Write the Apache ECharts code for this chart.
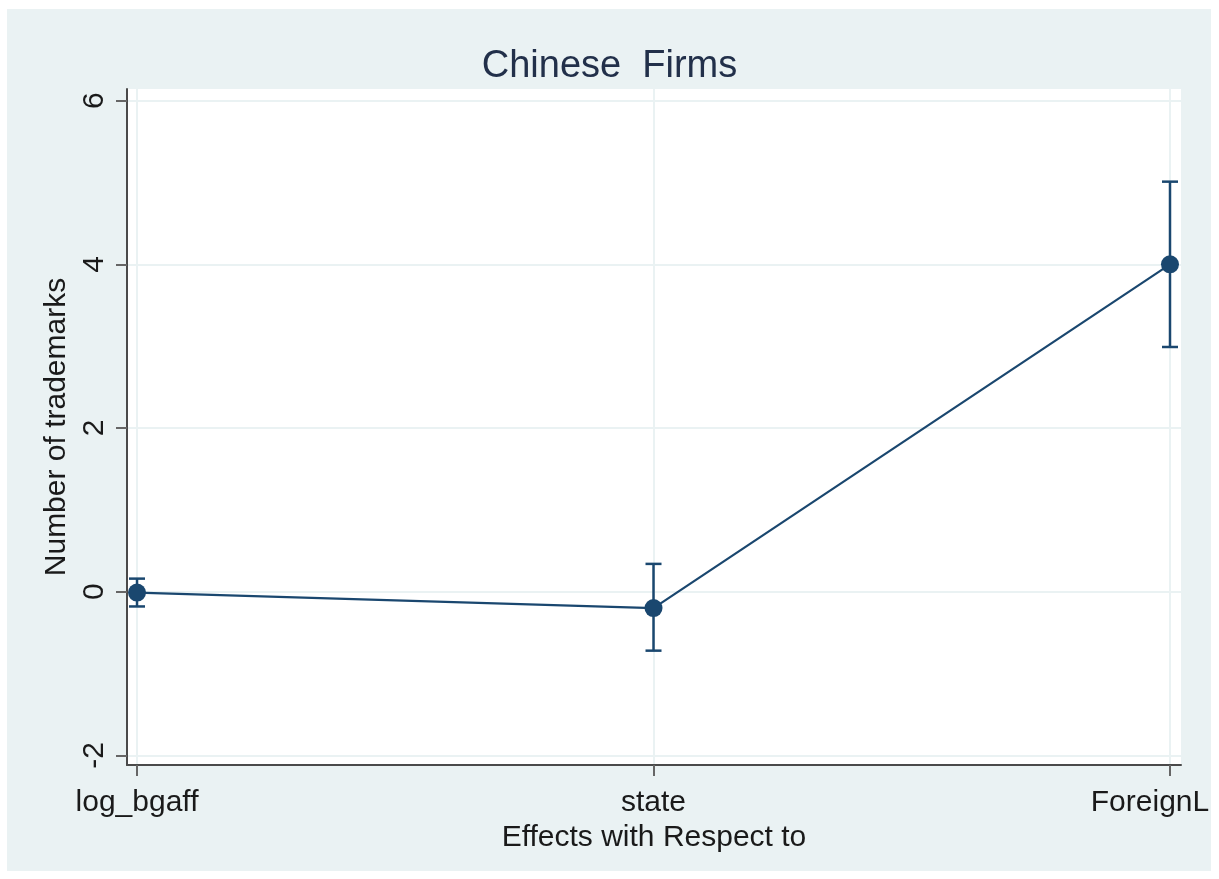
<!DOCTYPE html>
<html>
<head>
<meta charset="utf-8">
<script src="https://cdn.jsdelivr.net/npm/echarts@6/dist/echarts.min.js"></script>
<style>
html,body{margin:0;padding:0;background:#fff;}
#chart{width:1219px;height:879px;}
</style>
</head>
<body>
<div id="chart"></div>
<script>
// ---- data ----
var categories = ['log_bgaff', 'state', 'ForeignL'];
var estimates = [-0.01, -0.2, 4.0];
var ciLower = [-0.18, -0.72, 2.99];
var ciUpper = [0.16, 0.34, 5.01];
var yTicks = [-2, 0, 2, 4, 6];
var xTicks = [0, 1, 2];

var navy = '#1A476F';
var lineData = categories.map(function (c, i) { return [i, estimates[i]]; });
var errData = categories.map(function (c, i) { return [i, ciLower[i], ciUpper[i]]; });

var chart = echarts.init(document.getElementById('chart'));
chart.setOption({
  backgroundColor: '#ffffff',
  animation: false,
  graphic: [{
    type: 'rect', z: -10, silent: true,
    shape: { x: 7, y: 9, width: 1204, height: 862 },
    style: { fill: '#EAF2F3' }
  }],
  title: {
    text: 'Chinese  Firms',
    left: 'center', top: 43,
    textStyle: { fontFamily: 'Liberation Sans, Arial, sans-serif', fontSize: 38, fontWeight: 'normal', color: '#22304a' }
  },
  grid: {
    left: 127, right: 38, top: 89, bottom: 114,
    outerBoundsMode: 'none', containLabel: false,
    show: true, backgroundColor: '#ffffff', borderWidth: 0
  },
  xAxis: {
    type: 'value',
    min: -0.0194, max: 2.0213,
    name: 'Effects with Respect to',
    nameLocation: 'middle', nameGap: 52,
    nameTextStyle: { fontFamily: 'Liberation Sans, Arial, sans-serif', fontSize: 30, color: '#1a1a1a', verticalAlign: 'top' },
    axisLine: { show: true, onZero: false, lineStyle: { color: '#4a4a4a', width: 2 } },
    axisTick: { show: true, length: 11, customValues: xTicks, lineStyle: { color: '#666', width: 2 } },
    axisLabel: {
      customValues: xTicks, margin: 23, hideOverlap: false,
      fontFamily: 'Liberation Sans, Arial, sans-serif', fontSize: 30, color: '#1a1a1a',
      formatter: function (v) {
        var i = Math.round(v);
        return i === categories.length - 1 ? '{last|' + categories[i] + '}' : categories[i];
      },
      rich: {
        last: { fontFamily: 'Liberation Sans, Arial, sans-serif', fontSize: 30, color: '#1a1a1a', padding: [0, 40, 0, 0] }
      }
    },
    splitLine: { show: true, lineStyle: { color: '#EAF2F3', width: 2 } }
  },
  yAxis: {
    type: 'value',
    min: -2.117, max: 6.142,
    name: 'Number of trademarks',
    nameLocation: 'middle', nameGap: 37,
    nameTextStyle: { fontFamily: 'Liberation Sans, Arial, sans-serif', fontSize: 30, color: '#1a1a1a' },
    axisLine: { show: true, onZero: false, lineStyle: { color: '#4a4a4a', width: 2 } },
    axisTick: { show: true, length: 11, customValues: yTicks, lineStyle: { color: '#666', width: 2 } },
    axisLabel: {
      customValues: yTicks, margin: 17, rotate: 90,
      fontFamily: 'Liberation Sans, Arial, sans-serif', fontSize: 30, color: '#1a1a1a'
    },
    splitLine: { show: true, lineStyle: { color: '#EAF2F3', width: 2 } }
  },
  series: [
    {
      type: 'custom',
      data: errData,
      z: 3,
      renderItem: function (params, api) {
        var x = api.value(0);
        var lo = api.coord([x, api.value(1)]);
        var hi = api.coord([x, api.value(2)]);
        var cap = 8;
        var st = { stroke: navy, lineWidth: 2.5, fill: null };
        return {
          type: 'group',
          children: [
            { type: 'line', shape: { x1: lo[0], y1: lo[1], x2: hi[0], y2: hi[1] }, style: st },
            { type: 'line', shape: { x1: lo[0] - cap, y1: lo[1], x2: lo[0] + cap, y2: lo[1] }, style: st },
            { type: 'line', shape: { x1: hi[0] - cap, y1: hi[1], x2: hi[0] + cap, y2: hi[1] }, style: st }
          ]
        };
      }
    },
    {
      type: 'line',
      data: lineData,
      z: 4,
      symbol: 'circle', symbolSize: 18,
      lineStyle: { color: navy, width: 2.2 },
      itemStyle: { color: navy }
    }
  ]
});
</script>
</body>
</html>
